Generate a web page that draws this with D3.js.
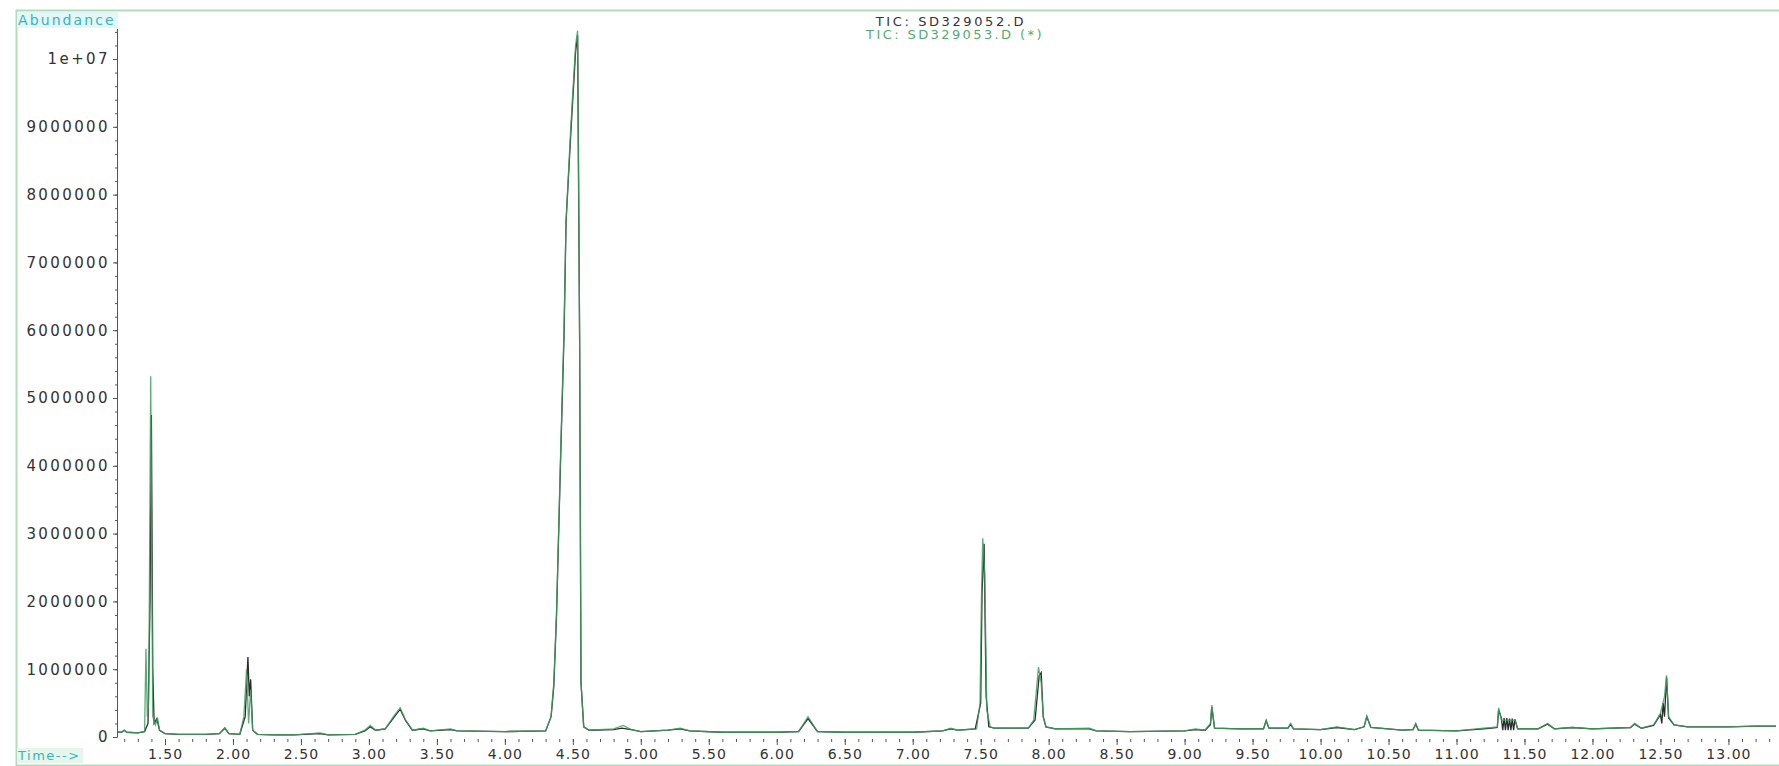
<!DOCTYPE html>
<html>
<script src='https://cdn.jsdelivr.net/npm/d3@7/dist/d3.min.js'></script>
<style>
 body {margin:0; background:white;}
 text {font-family:'DejaVu Sans', sans-serif;}
 .ax text {font-size:15px; fill:#333; letter-spacing:2.4px;}
 .ax line, .ax path {stroke:#555;}
 .xa text {font-size:14px; letter-spacing:1px;}
</style>
<body onload='init()'>
<svg width=1779 height=766></svg>
<script>
// TIC: SD329052.D (black trace) - time in minutes, abundance
var tBlack = [1.15,1.18,1.20,1.22,1.30,1.35,1.375,1.39,1.40,1.41,1.42,1.44,1.46,1.50,1.60,1.80,1.90,1.94,1.97,2.05,2.09,2.11,2.12,2.13,2.145,2.18,2.30,2.45,2.64,2.70,2.90,2.97,3.01,3.05,3.12,3.18,3.23,3.27,3.32,3.40,3.45,3.60,3.65,4.00,4.30,4.34,4.36,4.38,4.41,4.435,4.45,4.485,4.52,4.535,4.55,4.56,4.58,4.62,4.80,4.86,4.93,5.00,5.20,5.29,5.36,5.60,6.00,6.16,6.23,6.30,6.50,7.00,7.22,7.28,7.33,7.46,7.50,7.51,7.525,7.54,7.56,7.60,7.85,7.90,7.93,7.945,7.96,7.98,8.05,8.30,8.35,8.60,9.00,9.08,9.15,9.19,9.20,9.22,9.40,9.58,9.60,9.62,9.76,9.78,9.80,10.00,10.12,10.25,10.32,10.34,10.37,10.60,10.68,10.70,10.72,11.00,11.20,11.26,11.30,11.31,11.33,11.34,11.35,11.36,11.37,11.38,11.39,11.40,11.41,11.42,11.43,11.45,11.60,11.67,11.72,11.85,12.00,12.28,12.31,12.36,12.45,12.50,12.51,12.52,12.53,12.545,12.56,12.60,12.70,13.00,13.20,13.35];
var aBlack = [0.07e6,0.07e6,0.10e6,0.07e6,0.06e6,0.08e6,0.2e6,2.0e6,4.75e6,1.0e6,0.2e6,0.27e6,0.1e6,0.05e6,0.04e6,0.04e6,0.05e6,0.13e6,0.05e6,0.04e6,0.3e6,1.18e6,0.6e6,0.85e6,0.1e6,0.04e6,0.03e6,0.03e6,0.05e6,0.03e6,0.04e6,0.09e6,0.15e6,0.1e6,0.12e6,0.28e6,0.41e6,0.24e6,0.1e6,0.12e6,0.09e6,0.11e6,0.09e6,0.08e6,0.09e6,0.3e6,0.75e6,1.8e6,4.1e6,5.9e6,7.6e6,8.9e6,10.1e6,10.35e6,5.8e6,0.8e6,0.15e6,0.1e6,0.11e6,0.13e6,0.11e6,0.08e6,0.1e6,0.12e6,0.09e6,0.07e6,0.07e6,0.08e6,0.27e6,0.08e6,0.07e6,0.07e6,0.09e6,0.12e6,0.1e6,0.12e6,0.5e6,2.14e6,2.85e6,0.6e6,0.15e6,0.13e6,0.13e6,0.25e6,0.9e6,0.95e6,0.3e6,0.15e6,0.12e6,0.12e6,0.09e6,0.08e6,0.09e6,0.11e6,0.1e6,0.18e6,0.44e6,0.13e6,0.12e6,0.12e6,0.24e6,0.13e6,0.13e6,0.19e6,0.12e6,0.11e6,0.14e6,0.11e6,0.15e6,0.30e6,0.14e6,0.1e6,0.11e6,0.19e6,0.1e6,0.09e6,0.12e6,0.13e6,0.14e6,0.40e6,0.28e6,0.1e6,0.28e6,0.1e6,0.28e6,0.1e6,0.27e6,0.1e6,0.27e6,0.1e6,0.26e6,0.12e6,0.12e6,0.19e6,0.12e6,0.14e6,0.12e6,0.14e6,0.19e6,0.13e6,0.17e6,0.33e6,0.2e6,0.5e6,0.3e6,0.88e6,0.28e6,0.18e6,0.15e6,0.15e6,0.16e6,0.16e6];

// TIC: SD329053.D (*) (green trace)
var tGreen = [1.15,1.18,1.20,1.22,1.30,1.35,1.36,1.37,1.38,1.395,1.41,1.43,1.445,1.46,1.50,1.60,1.80,1.90,1.94,1.97,2.05,2.08,2.10,2.115,2.13,2.145,2.18,2.30,2.45,2.64,2.70,2.90,2.97,3.01,3.05,3.12,3.18,3.23,3.27,3.32,3.40,3.45,3.60,3.65,4.00,4.30,4.34,4.36,4.38,4.41,4.435,4.45,4.485,4.52,4.535,4.55,4.56,4.58,4.62,4.80,4.87,4.93,5.00,5.20,5.29,5.36,5.60,6.00,6.16,6.23,6.30,6.50,7.00,7.22,7.28,7.33,7.47,7.495,7.505,7.515,7.53,7.545,7.57,7.60,7.85,7.89,7.925,7.945,7.96,7.98,8.05,8.30,8.35,8.60,9.00,9.08,9.15,9.19,9.20,9.22,9.40,9.58,9.60,9.62,9.76,9.78,9.80,10.00,10.12,10.25,10.32,10.34,10.37,10.60,10.68,10.70,10.72,11.00,11.20,11.26,11.30,11.31,11.33,11.43,11.45,11.60,11.67,11.72,11.85,12.00,12.28,12.31,12.36,12.45,12.50,12.53,12.545,12.56,12.60,12.70,13.00,13.20,13.35];
var aGreen = [0.07e6,0.07e6,0.10e6,0.07e6,0.06e6,0.08e6,1.3e6,0.3e6,0.5e6,5.32e6,0.3e6,0.18e6,0.28e6,0.1e6,0.05e6,0.04e6,0.04e6,0.05e6,0.14e6,0.05e6,0.04e6,0.3e6,1.0e6,0.2e6,0.7e6,0.1e6,0.04e6,0.03e6,0.03e6,0.06e6,0.03e6,0.04e6,0.10e6,0.17e6,0.1e6,0.12e6,0.30e6,0.43e6,0.25e6,0.1e6,0.13e6,0.09e6,0.12e6,0.09e6,0.08e6,0.09e6,0.3e6,0.8e6,1.83e6,4.17e6,6.0e6,7.6e6,9.0e6,10.2e6,10.42e6,5.9e6,0.8e6,0.15e6,0.1e6,0.12e6,0.17e6,0.11e6,0.08e6,0.1e6,0.13e6,0.09e6,0.07e6,0.07e6,0.08e6,0.30e6,0.08e6,0.07e6,0.07e6,0.09e6,0.13e6,0.1e6,0.12e6,0.5e6,2.0e6,2.93e6,2.4e6,0.4e6,0.15e6,0.13e6,0.13e6,0.25e6,1.03e6,0.8e6,0.3e6,0.15e6,0.12e6,0.13e6,0.09e6,0.08e6,0.09e6,0.12e6,0.1e6,0.2e6,0.47e6,0.13e6,0.12e6,0.12e6,0.25e6,0.13e6,0.13e6,0.2e6,0.12e6,0.11e6,0.15e6,0.11e6,0.15e6,0.31e6,0.14e6,0.1e6,0.11e6,0.2e6,0.1e6,0.09e6,0.13e6,0.14e6,0.15e6,0.43e6,0.25e6,0.25e6,0.12e6,0.12e6,0.2e6,0.12e6,0.14e6,0.12e6,0.14e6,0.2e6,0.13e6,0.18e6,0.35e6,0.6e6,0.91e6,0.3e6,0.18e6,0.15e6,0.15e6,0.16e6,0.16e6];

var xTicks = [1.5,2,2.5,3,3.5,4,4.5,5,5.5,6,6.5,7,7.5,8,8.5,9,9.5,10,10.5,11,11.5,12,12.5,13];
var xTickLabels = ['1.50','2.00','2.50','3.00','3.50','4.00','4.50','5.00','5.50','6.00','6.50','7.00','7.50','8.00','8.50','9.00','9.50','10.00','10.50','11.00','11.50','12.00','12.50','13.00'];
var yTicks = [0,1e6,2e6,3e6,4e6,5e6,6e6,7e6,8e6,9e6,1e7];
var yTickLabels = ['0','1000000','2000000','3000000','4000000','5000000','6000000','7000000','8000000','9000000','1e+07'];
var titles = ['TIC: SD329052.D','TIC: SD329053.D (*)'];

function init() {
  var svg = d3.select('svg');
  var xs = d3.scaleLinear().domain([1.147,13.35]).range([117,1776]);
  var ys = d3.scaleLinear().domain([0,10.45e6]).range([737,28.5]);

  // frame
  svg.append('path').attr('d','M1779,10.5H16.5V765.5H1779')
    .attr('fill','none').attr('stroke','#b3dcbd').attr('stroke-width',2);

  // label boxes
  svg.append('rect').attr('x',17).attr('y',12).attr('width',101).attr('height',16).attr('fill','#e4f6f5');
  svg.append('text').attr('x',18).attr('y',25).text('Abundance')
    .attr('fill','#37b4c4').style('font-size','14px').style('letter-spacing','2.1px');
  svg.append('rect').attr('x',17).attr('y',748).attr('width',66).attr('height',15).attr('fill','#e6f6ea');
  svg.append('text').attr('x',18).attr('y',760).text('Time-->')
    .attr('fill','#37b4c4').style('font-size','13px').style('letter-spacing','1.5px');

  // y axis
  svg.append('g').attr('class','ax').attr('transform','translate(117,0)')
    .call(d3.axisLeft(ys).tickValues(yTicks).tickFormat(function(d,i){return yTickLabels[i];}).tickSize(4).tickPadding(3).tickSizeOuter(0));
  svg.append('g').attr('class','ax').attr('transform','translate(117,0)')
    .call(d3.axisLeft(ys).tickValues(d3.range(0,10.45e6,2e5)).tickFormat('').tickSize(2).tickSizeOuter(0));

  // x axis
  var xg = svg.append('g').attr('class','ax xa').attr('transform','translate(0,739)')
    .call(d3.axisBottom(xs).tickValues(xTicks).tickFormat(function(d,i){return xTickLabels[i];}).tickSize(6).tickPadding(4));
  xg.select('.domain').remove();
  var xm = svg.append('g').attr('class','ax').attr('transform','translate(0,739)')
    .call(d3.axisBottom(xs).tickValues(d3.range(12,134,1).map(function(d){return d/10;})).tickFormat('').tickSize(3));
  xm.select('.domain').remove();

  var line = d3.line().x(function(d){return xs(d[0]);}).y(function(d){return ys(d[1]);});

  svg.append('path').datum(d3.zip(tBlack,aBlack))
    .attr('d',line).attr('fill','none').attr('stroke','#2b2b2b').attr('stroke-width',1.3);
  svg.append('path').datum(d3.zip(tGreen,aGreen))
    .attr('d',line).attr('fill','none').attr('stroke','#3e9f5e').attr('stroke-width',1.3).attr('stroke-opacity',0.85);

  // titles
  svg.append('text').attr('x',951).attr('y',26).attr('text-anchor','middle').text(titles[0])
    .attr('fill','#333').style('font-size','13px').style('letter-spacing','2.6px');
  svg.append('text').attr('x',955).attr('y',39).attr('text-anchor','middle').text(titles[1])
    .attr('fill','#4fae6c').style('font-size','13px').style('letter-spacing','2.4px');
}
</script>
</body>
</html>
